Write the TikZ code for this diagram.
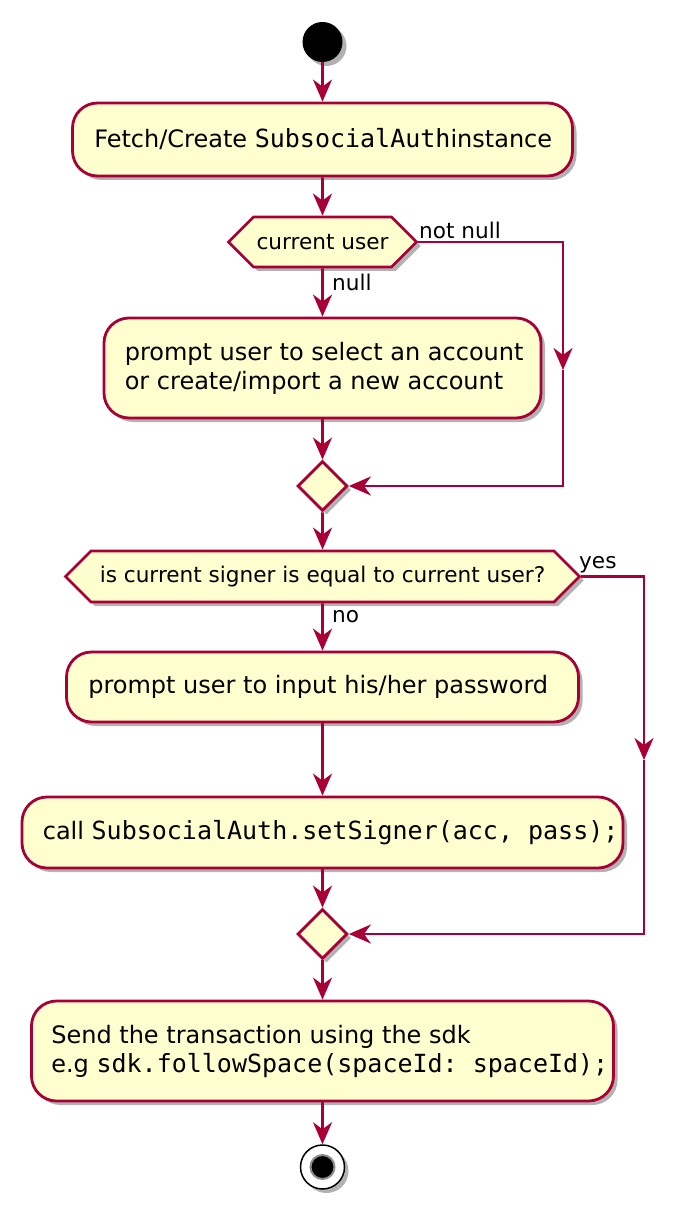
\documentclass[tikz,border=0pt]{standalone}
\usepackage{fontspec}
\setmainfont{DejaVu Sans}
\setmonofont{DejaVu Sans Mono}
\usetikzlibrary{arrows.meta,shapes.geometric,shapes.symbols,shadows,calc}
\definecolor{puborder}{HTML}{A80036}
\definecolor{pufill}{HTML}{FEFECE}
\newcommand{\mtt}[1]{{\fontsize{25}{29}\ttfamily #1}}
\begin{document}
\begin{tikzpicture}[x=1pt,y=-1pt,
  shad/.style={drop shadow={shadow xshift=4pt,shadow yshift=-4pt,opacity=0.3,fill=black}},
  actbox/.style={draw=puborder,fill=pufill,line width=2.8pt,rounded corners=25pt,shad,inner sep=0pt},
  hexa/.style={signal,signal to=west and east,signal pointer angle=90,draw=puborder,fill=pufill,line width=2.8pt,shad,inner sep=0pt,font=\fontsize{21.6}{25}\selectfont},
  merge/.style={diamond,draw=puborder,fill=pufill,line width=2.8pt,shad,minimum width=50pt,minimum height=50pt,inner sep=0pt},
  flow/.style={draw=puborder,line width=2.8pt,-{Stealth[length=22pt,width=19pt,inset=7pt]}},
  btext/.style={anchor=west,align=left,inner sep=0pt,font=\fontsize{24}{29}\selectfont},
  lbl/.style={anchor=west,inner sep=0pt,font=\fontsize{21.6}{25}\selectfont}
]
\useasboundingbox (0,0) rectangle (695,1222);

% nodes
\node[circle,fill=black,minimum size=40pt,inner sep=0pt,shad] (start) at (322.5,42) {};
\node[actbox,minimum width=500pt,minimum height=73pt] (b1) at (322.5,139.5) {};
\node[btext] (t1) at ($(b1.west)+(23,0)$) {Fetch/Create \mtt{SubsocialAuth}instance};
\node[hexa,minimum width=188pt,minimum height=50pt] (h1) at (322.5,242) {current user};
\node[actbox,minimum width=437pt,minimum height=100pt] (b2) at (322.5,368) {};
\node[btext] (t2) at ($(b2.west)+(22,0)$) {prompt user to select an account\\or create/import a new account};
\node[merge] (d1) at (322.5,486) {};
\node[hexa,minimum width=514pt,minimum height=51pt] (h2) at (322.5,576.5) {is current signer is equal to current user?};
\node[actbox,minimum width=512pt,minimum height=70pt] (b3) at (322.5,687) {};
\node[btext] (t3) at ($(b3.west)+(23,0)$) {prompt user to input his/her password};
\node[actbox,minimum width=601pt,minimum height=71pt] (b4) at (322.5,832.5) {};
\node[btext] (t4) at ($(b4.west)+(22,0)$) {call \mtt{SubsocialAuth.setSigner(acc, pass);}};
\node[merge] (d2) at (322.5,934) {};
\node[actbox,minimum width=582pt,minimum height=100pt] (b5) at (322.5,1051) {};
\node[btext] (t5) at ($(b5.west)+(21,0)$) {Send the transaction using the sdk\\e.g \mtt{sdk.followSpace(spaceId: spaceId);}};
\node[circle,draw=black,fill=white,line width=1.5pt,minimum size=44pt,inner sep=0pt,shad] (end) at (322.5,1167) {};
\node[circle,fill=black,draw=black!45,line width=2pt,minimum size=24pt,inner sep=0pt] (endin) at (end) {};

\coordinate (r1) at (563,370);
\coordinate (r2) at (644,760);

% labels
\node[lbl] (lnn) at (419,230) {not null};
\node[lbl] (lnull) at (332,282) {null};
\node[lbl] (lyes) at (579,565) {yes};
\node[lbl] (lno) at (332,617) {no};

% connectors
\draw[flow] (start) -- (b1);
\draw[flow] (b1) -- (h1);
\draw[flow] (h1) -- (b2);
\draw[flow] (h1.east) -| (r1);
\draw[flow] (r1) |- (d1.east);
\draw[flow] (b2) -- (d1);
\draw[flow] (d1) -- (h2);
\draw[flow] (h2) -- (b3);
\draw[flow] (h2.east) -| (r2);
\draw[flow] (r2) |- (d2.east);
\draw[flow] (b3) -- (b4);
\draw[flow] (b4) -- (d2);
\draw[flow] (d2) -- (b5);
\draw[flow] (b5) -- (end);
\end{tikzpicture}
\end{document}
